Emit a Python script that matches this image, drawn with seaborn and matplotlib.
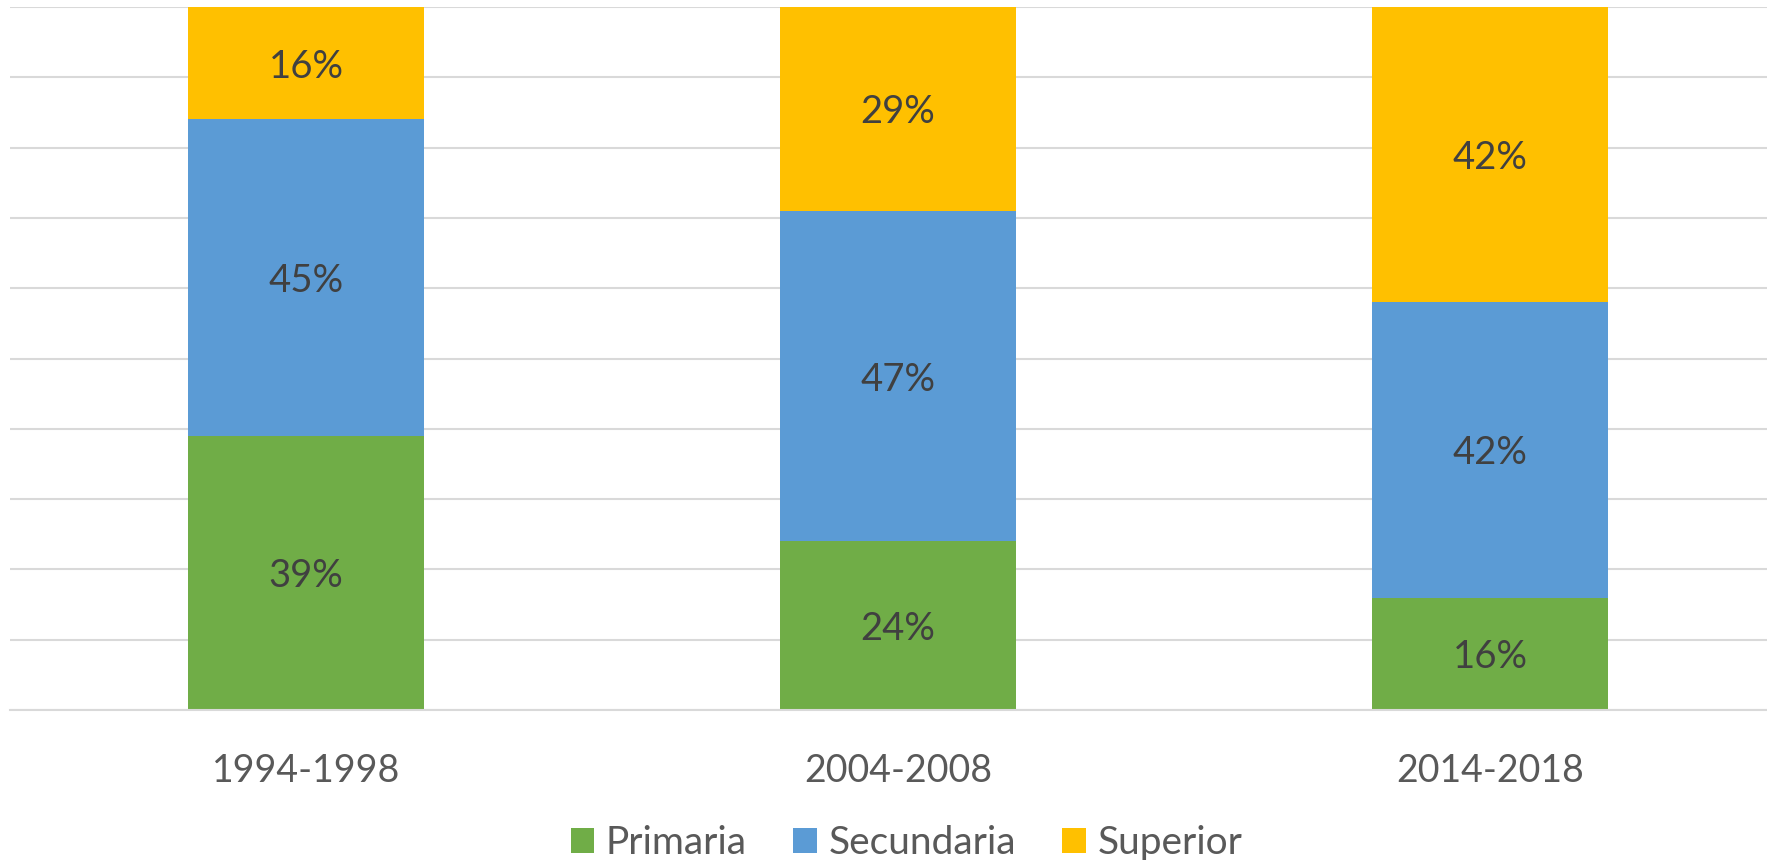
import numpy as np
import pandas as pd
import seaborn as sns
import matplotlib.pyplot as plt
from matplotlib.patches import Patch

periods = ["1994-1998", "2004-2008", "2014-2018"]
primaria = [39, 24, 16]
secundaria = [45, 47, 42]
superior = [16, 29, 42]

series_names = ["Primaria", "Secundaria", "Superior"]
colors = ["#70AD47", "#5B9BD5", "#FFC000"]

sns.set_theme(style="white")
plt.rcParams['font.family'] = ['Lato', 'DejaVu Sans']

df = pd.DataFrame({"periodo": periods, "Primaria": primaria,
                   "Secundaria": secundaria, "Superior": superior})
df["c1"] = df["Primaria"]
df["c2"] = df["c1"] + df["Secundaria"]
df["c3"] = df["c2"] + df["Superior"]

fig = plt.figure(figsize=(17.67, 8.6), dpi=100)
ax = fig.add_axes([10 / 1767, 1 - 710 / 860, 1 - 10 / 1767, 703 / 860])

# stacked bars drawn as cumulative totals, top segment first
for col, color in zip(["c3", "c2", "c1"], colors[::-1]):
    sns.barplot(data=df, x="periodo", y=col, color=color, width=0.4,
                saturation=1, linewidth=0, ax=ax, zorder=2)

ax.set_ylim(0, 100)
ax.set_xlim(-0.5, 2.468)
ax.set_yticks(np.arange(0, 101, 10))
ax.yaxis.grid(True, color="#D9D9D9", linewidth=1.5, zorder=0)
ax.set_axisbelow(True)
ax.tick_params(axis="y", left=False, labelleft=False)
ax.tick_params(axis="x", bottom=False, labelsize=27, colors="#595959", pad=25)
ax.set_xlabel("")
ax.set_ylabel("")
for s in ["top", "right", "left"]:
    ax.spines[s].set_visible(False)
ax.spines["bottom"].set_color("#D9D9D9")
ax.spines["bottom"].set_linewidth(1.5)

# segment labels
for i in range(len(periods)):
    base = 0
    for vals in [primaria, secundaria, superior]:
        v = vals[i]
        ax.text(i, base + v / 2, f"{v}%", ha="center", va="center_baseline",
                fontsize=27.5, color="#404040", zorder=3)
        base += v

handles = [Patch(facecolor=c, edgecolor="none") for c in colors]
fig.legend(handles, series_names, loc="center", bbox_to_anchor=(0.513, 1 - 843 / 860),
           ncol=3, frameon=False, fontsize=28, labelcolor="#595959",
           handlelength=0.6, handleheight=0.6, handletextpad=0.3, columnspacing=1.2)

fig.savefig("out.png", dpi=100)
